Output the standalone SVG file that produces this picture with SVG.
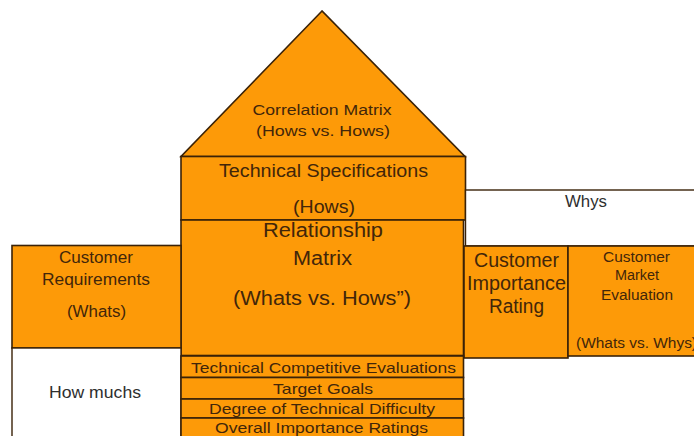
<svg xmlns="http://www.w3.org/2000/svg" width="694" height="436" viewBox="0 0 694 436">
  <style>
    .box { fill: #FD9A08; stroke: #3a2208; stroke-width: 1.6; }
    .blank { fill: #FFFFFF; stroke: #3a2208; stroke-width: 1.4; }
    text { font-family: "Liberation Sans", Arial, sans-serif; fill: #42260a; text-anchor: middle; }
    .dark { fill: #2e2e2e; }
  </style>
  <rect width="694" height="436" fill="#FFFFFF"/>

  <!-- roof: correlation matrix -->
  <g id="correlation-matrix">
    <polygon class="box" points="322,11 181,156.5 465,156.5"/>
    <text x="322" y="115" font-size="15.5" textLength="139" lengthAdjust="spacingAndGlyphs">Correlation Matrix</text>
    <text x="323" y="136" font-size="15.5" textLength="134" lengthAdjust="spacingAndGlyphs">(Hows vs. Hows)</text>
  </g>

  <!-- technical specifications -->
  <g id="technical-specifications">
    <rect class="box" x="181" y="156.5" width="284.5" height="63.5"/>
    <text x="323.5" y="177" font-size="18" textLength="209" lengthAdjust="spacingAndGlyphs">Technical Specifications</text>
    <text x="324" y="213" font-size="18" textLength="62" lengthAdjust="spacingAndGlyphs">(Hows)</text>
  </g>

  <!-- relationship matrix -->
  <g id="relationship-matrix">
    <rect class="box" x="181" y="220" width="282.5" height="135.5"/>
    <text x="323" y="237" font-size="19.5" textLength="120" lengthAdjust="spacingAndGlyphs">Relationship</text>
    <text x="322.5" y="265" font-size="19.5" textLength="59" lengthAdjust="spacingAndGlyphs">Matrix</text>
    <text x="322" y="305" font-size="19.5" textLength="178" lengthAdjust="spacingAndGlyphs">(Whats vs. Hows”)</text>
  </g>

  <!-- customer requirements -->
  <g id="customer-requirements">
    <rect class="box" x="12" y="245.5" width="169" height="102.5"/>
    <text x="96" y="263" font-size="16" textLength="74" lengthAdjust="spacingAndGlyphs">Customer</text>
    <text x="96" y="285" font-size="16" textLength="108" lengthAdjust="spacingAndGlyphs">Requirements</text>
    <text x="96.5" y="317" font-size="16" textLength="59" lengthAdjust="spacingAndGlyphs">(Whats)</text>
  </g>

  <!-- how muchs -->
  <g id="how-muchs">
    <rect class="blank" x="12" y="348" width="169" height="100"/>
    <text class="dark" x="95" y="398" font-size="16.5" textLength="92" lengthAdjust="spacingAndGlyphs">How muchs</text>
  </g>

  <!-- whys -->
  <g id="whys">
    <rect class="blank" x="465.5" y="190" width="240" height="56"/>
    <text class="dark" x="586" y="207" font-size="16" textLength="42" lengthAdjust="spacingAndGlyphs">Whys</text>
  </g>

  <!-- customer importance rating -->
  <g id="customer-importance-rating">
    <rect class="box" x="464" y="246" width="104" height="112"/>
    <text x="516.5" y="267" font-size="19.5" textLength="85" lengthAdjust="spacingAndGlyphs">Customer</text>
    <text x="516.5" y="290" font-size="19.5" textLength="99" lengthAdjust="spacingAndGlyphs">Importance</text>
    <text x="516.5" y="313" font-size="19.5" textLength="55" lengthAdjust="spacingAndGlyphs">Rating</text>
  </g>

  <!-- customer market evaluation -->
  <g id="customer-market-evaluation">
    <rect class="box" x="568" y="246" width="140" height="110"/>
    <text x="636.5" y="262" font-size="14" textLength="67" lengthAdjust="spacingAndGlyphs">Customer</text>
    <text x="637" y="280" font-size="14" textLength="44" lengthAdjust="spacingAndGlyphs">Market</text>
    <text x="637" y="300" font-size="14" textLength="72" lengthAdjust="spacingAndGlyphs">Evaluation</text>
    <text x="576" y="348" font-size="14" style="text-anchor:start" textLength="121" lengthAdjust="spacingAndGlyphs">(Whats vs. Whys)</text>
  </g>

  <!-- basement rows -->
  <g id="technical-competitive-evaluations">
    <rect class="box" x="181" y="356" width="282.5" height="21.5"/>
    <text x="323.5" y="373" font-size="15" textLength="265" lengthAdjust="spacingAndGlyphs">Technical Competitive Evaluations</text>
  </g>
  <g id="target-goals">
    <rect class="box" x="181" y="377.5" width="282.5" height="21.5"/>
    <text x="323" y="393.5" font-size="15" textLength="100" lengthAdjust="spacingAndGlyphs">Target Goals</text>
  </g>
  <g id="degree-of-technical-difficulty">
    <rect class="box" x="181" y="399" width="282.5" height="19"/>
    <text x="322" y="414" font-size="15" textLength="226" lengthAdjust="spacingAndGlyphs">Degree of Technical Difficulty</text>
  </g>
  <g id="overall-importance-ratings">
    <rect class="box" x="181" y="418" width="282.5" height="30"/>
    <text x="321.5" y="433" font-size="14.5" textLength="213" lengthAdjust="spacingAndGlyphs">Overall Importance Ratings</text>
  </g>
</svg>
